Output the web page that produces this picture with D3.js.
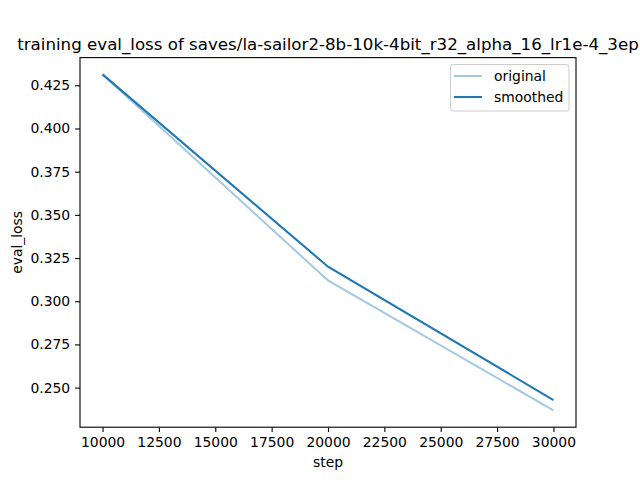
<!DOCTYPE html>
<html><head><meta charset="utf-8">
<script src="https://cdn.jsdelivr.net/npm/d3@7"></script>
<style>body{margin:0;background:#fff}text{font-family:"DejaVu Sans",sans-serif}</style>
</head><body>
<svg id="c" width="640" height="480"></svg>
<script>
const steps = [10000, 20000, 30000];
const original = [0.4313, 0.3120, 0.2368];
const smoothed = [0.4313, 0.3200, 0.2428];
const xTicks = [10000, 12500, 15000, 17500, 20000, 22500, 25000, 27500, 30000];
const yTicks = [0.250, 0.275, 0.300, 0.325, 0.350, 0.375, 0.400, 0.425];
const seriesNames = ["original", "smoothed"];
const titleText = "training eval_loss of saves/la-sailor2-8b-10k-4bit_r32_alpha_16_lr1e-4_3ep";

const svg = d3.select("#c");
const L = 80, R = 576, T = 57.6, B = 427.2;
const allY = original.concat(smoothed);
const yMin = d3.min(allY), yMax = d3.max(allY), yPad = (yMax - yMin) * 0.05;
const xMin = d3.min(steps), xMax = d3.max(steps), xPad = (xMax - xMin) * 0.05;
const x = d3.scaleLinear().domain([xMin - xPad, xMax + xPad]).range([L, R]);
const y = d3.scaleLinear().domain([yMin - yPad, yMax + yPad]).range([B, T]);

const fs = 13.9;
const line = d3.line().x((d, i) => x(steps[i])).y(d => y(d));
svg.append("path").datum(original).attr("d", line).attr("fill", "none")
  .attr("stroke", "#1f77b4").attr("stroke-opacity", 0.4).attr("stroke-width", 2.08);
svg.append("path").datum(smoothed).attr("d", line).attr("fill", "none")
  .attr("stroke", "#1f77b4").attr("stroke-width", 2.08);

const xa = svg.append("g").attr("transform", `translate(0,${B})`)
  .call(d3.axisBottom(x).tickValues(xTicks).tickFormat(d3.format("d")).tickSize(4.9).tickPadding(4.9));
const ya = svg.append("g").attr("transform", `translate(${L},0)`)
  .call(d3.axisLeft(y).tickValues(yTicks).tickFormat(d3.format(".3f")).tickSize(4.9).tickPadding(4.9));
[xa, ya].forEach(a => {
  a.select(".domain").remove();
  a.selectAll("line").attr("stroke", "#000").attr("stroke-width", 1.1);
  a.selectAll("text").attr("font-size", fs).attr("fill", "#000").style("font-family", "DejaVu Sans");
});
svg.append("rect").attr("x", L).attr("y", T).attr("width", R - L).attr("height", B - T)
  .attr("fill", "none").attr("stroke", "#000").attr("stroke-width", 1.1);

svg.append("text").attr("x", (L + R) / 2).attr("y", 49.5).attr("text-anchor", "middle")
  .attr("font-size", 16.67).text(titleText);
svg.append("text").attr("x", (L + R) / 2).attr("y", 467).attr("text-anchor", "middle")
  .attr("font-size", fs).text("step");
svg.append("text").attr("transform", `translate(22,${(T + B) / 2}) rotate(-90)`).attr("text-anchor", "middle")
  .attr("font-size", fs).text("eval_loss");

const lg = svg.append("g");
lg.append("rect").attr("x", 450.5).attr("y", 64.5).attr("width", 118.5).attr("height", 46.5).attr("rx", 2.8)
  .attr("fill", "#fff").attr("fill-opacity", 0.8).attr("stroke", "#ccc").attr("stroke-width", 1);
seriesNames.forEach((n, i) => {
  const yy = 76 + i * 21;
  lg.append("line").attr("x1", 454).attr("x2", 482).attr("y1", yy).attr("y2", yy)
    .attr("stroke", "#1f77b4").attr("stroke-opacity", i === 0 ? 0.4 : 1).attr("stroke-width", 2.08);
  lg.append("text").attr("x", 494).attr("y", yy + 5).attr("font-size", fs).text(n);
});
</script>
</body></html>
